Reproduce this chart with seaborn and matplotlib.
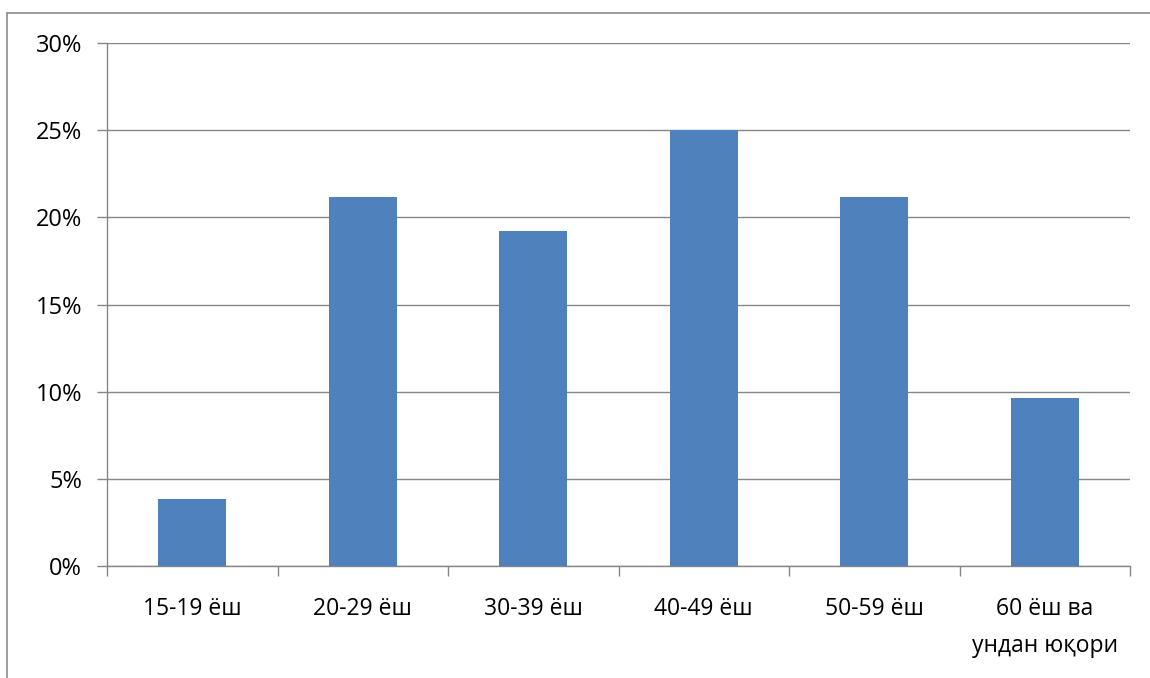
import matplotlib
matplotlib.use("Agg")
import matplotlib.pyplot as plt
from matplotlib.lines import Line2D
from matplotlib.ticker import FixedLocator, FuncFormatter
import seaborn as sns

# Age groups and their share of respondents (%)
categories = ["15-19 ёш", "20-29 ёш", "30-39 ёш", "40-49 ёш", "50-59 ёш", "60 ёш ва\nундан юқори"]
shares = [3.85, 21.15, 19.23, 25.0, 21.15, 9.62]
y_ticks = [0, 5, 10, 15, 20, 25, 30]

sns.set_theme(style="white")
plt.rcParams["font.family"] = ["Open Sans", "DejaVu Sans"]

W, H = 1150, 678
fig = plt.figure(figsize=(W / 100, H / 100), dpi=100)
fig.patch.set_facecolor("white")

# outer chart frame (left and top edges)
frame_col = "#8c8c8c"
fig.add_artist(Line2D([7 / W, 7 / W], [0, 1 - 13 / H], color=frame_col, lw=1.2, transform=fig.transFigure))
fig.add_artist(Line2D([7 / W, 1], [1 - 13 / H, 1 - 13 / H], color=frame_col, lw=1.2, transform=fig.transFigure))

ax = fig.add_axes([107 / W, 1 - 566 / H, (1130 - 107) / W, (566 - 43) / H])

sns.barplot(x=categories, y=shares, color="#4F81BD", width=0.4, saturation=1,
            linewidth=0, edgecolor="none", ax=ax, zorder=3)

axis_col = "#868686"
ax.set_xlim(-0.5, len(categories) - 0.5)
ax.set_ylim(0, 30)

ax.yaxis.set_major_locator(FixedLocator(y_ticks))
ax.yaxis.set_major_formatter(FuncFormatter(lambda v, p: f"{int(v)}%"))
ax.grid(axis="y", color=axis_col, lw=1.0, zorder=0)
ax.grid(axis="x", visible=False)

# boundary ticks on the category axis, labels centred between them
ax.set_xticks([i - 0.5 for i in range(len(categories) + 1)])
ax.set_xticklabels([])
ax.set_xticks(range(len(categories)), minor=True)
ax.set_xticklabels(categories, minor=True, fontsize=16.5, color="#000000", linespacing=1.75)
ax.tick_params(axis="x", which="major", direction="out", length=7, width=1.0, color=axis_col, bottom=True)
ax.tick_params(axis="x", which="minor", length=0, pad=22)
ax.tick_params(axis="y", direction="out", length=7, width=1.0, color=axis_col, left=True,
               labelsize=17, labelcolor="#000000", pad=11)

for side in ("top", "right"):
    ax.spines[side].set_visible(False)
for side in ("left", "bottom"):
    ax.spines[side].set_color(axis_col)
    ax.spines[side].set_linewidth(1.0)
ax.set_xlabel("")
ax.set_ylabel("")

fig.savefig("out.png", dpi=100, facecolor="white")
